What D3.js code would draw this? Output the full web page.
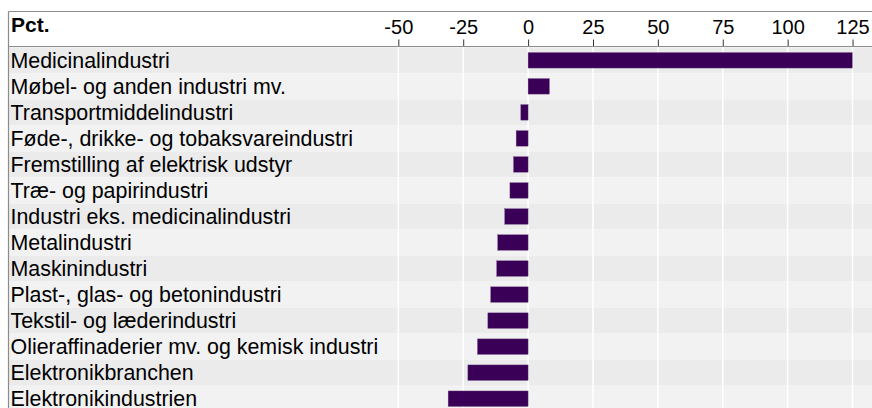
<!DOCTYPE html>
<html>
<head>
<meta charset="utf-8">
<script src="https://cdn.jsdelivr.net/npm/d3@7"></script>
<style>
  html, body { margin: 0; padding: 0; background: #ffffff; }
  svg { display: block; font-family: "Liberation Sans", Arial, sans-serif; }
</style>
</head>
<body>
<svg id="chart" width="872" height="408"></svg>
<script>
const categories = [
  "Medicinalindustri",
  "Møbel- og anden industri mv.",
  "Transportmiddelindustri",
  "Føde-, drikke- og tobaksvareindustri",
  "Fremstilling af elektrisk udstyr",
  "Træ- og papirindustri",
  "Industri eks. medicinalindustri",
  "Metalindustri",
  "Maskinindustri",
  "Plast-, glas- og betonindustri",
  "Tekstil- og læderindustri",
  "Olieraffinaderier mv. og kemisk industri",
  "Elektronikbranchen",
  "Elektronikindustrien"
];
const values = [124.9, 8.2, -2.8, -4.6, -5.6, -7.0, -9.0, -11.7, -12.1, -14.4, -15.5, -19.5, -23.2, -30.8];
const tickValues = [-50, -25, 0, 25, 50, 75, 100, 125];
const axisTitle = "Pct.";

(function () {
const svg = d3.select("#chart");
const W = 872, H = 408;
const left = 8.5, topY = 11.5, headerBottom = 46.5, rowTop = 47.3, rowStep = 26.03;

const x = d3.scaleLinear().domain([-200, 132.5]).range([9, 872]);
const y = d3.scaleBand().domain(categories)
  .range([rowTop, rowTop + rowStep * categories.length])
  .paddingInner(0).paddingOuter(0);

// row backgrounds
svg.append("g").selectAll("rect").data(categories).join("rect")
  .attr("x", left).attr("y", d => y(d))
  .attr("width", W - left).attr("height", y.bandwidth())
  .attr("fill", (d, i) => i % 2 === 0 ? "#ebebeb" : "#f2f2f2");

// gridlines
svg.append("g").selectAll("line").data(tickValues).join("line")
  .attr("x1", d => x(d)).attr("x2", d => x(d))
  .attr("y1", headerBottom).attr("y2", H)
  .attr("stroke", "#ffffff").attr("stroke-width", 1.5);

// bars
const barH = 15.5;
svg.append("g").selectAll("rect").data(values).join("rect")
  .attr("x", d => x(Math.min(0, d)))
  .attr("y", (d, i) => y(categories[i]) + (y.bandwidth() - barH) / 2)
  .attr("width", d => Math.abs(x(d) - x(0)))
  .attr("height", barH)
  .attr("fill", "#3a0057")
  .attr("stroke", "#6e4d86").attr("stroke-width", 0.4);

// category labels
svg.append("g").selectAll("text").data(categories).join("text")
  .attr("x", 10.5)
  .attr("y", d => y(d) + y.bandwidth() / 2 + 7.4)
  .attr("font-size", 21.4).attr("fill", "#000")
  .text(d => d);

// header: axis on top
const axis = d3.axisTop(x).tickValues(tickValues).tickSize(7).tickPadding(6)
  .tickFormat(d => String(d));
const ax = svg.append("g").attr("transform", `translate(0,${headerBottom})`).call(axis);
ax.select(".domain").remove();
ax.selectAll(".tick line").attr("stroke", "#333").attr("stroke-width", 1);
ax.selectAll(".tick text").attr("font-size", 20).attr("fill", "#000")
  .attr("font-family", "'Liberation Sans', Arial, sans-serif")
  .attr("dy", 0).attr("y", -13);

svg.append("text").attr("x", 11).attr("y", 32)
  .attr("font-size", 21).attr("font-weight", "bold").attr("fill", "#000")
  .text(axisTitle);

// border lines
svg.append("line").attr("x1", left).attr("x2", W).attr("y1", topY).attr("y2", topY)
  .attr("stroke", "#8c8c8c").attr("stroke-width", 1.2);
svg.append("line").attr("x1", left).attr("x2", W).attr("y1", headerBottom).attr("y2", headerBottom)
  .attr("stroke", "#8c8c8c").attr("stroke-width", 1.2);
svg.append("line").attr("x1", left).attr("x2", left).attr("y1", topY).attr("y2", H)
  .attr("stroke", "#8c8c8c").attr("stroke-width", 1.2);
})();
</script>
</body>
</html>
